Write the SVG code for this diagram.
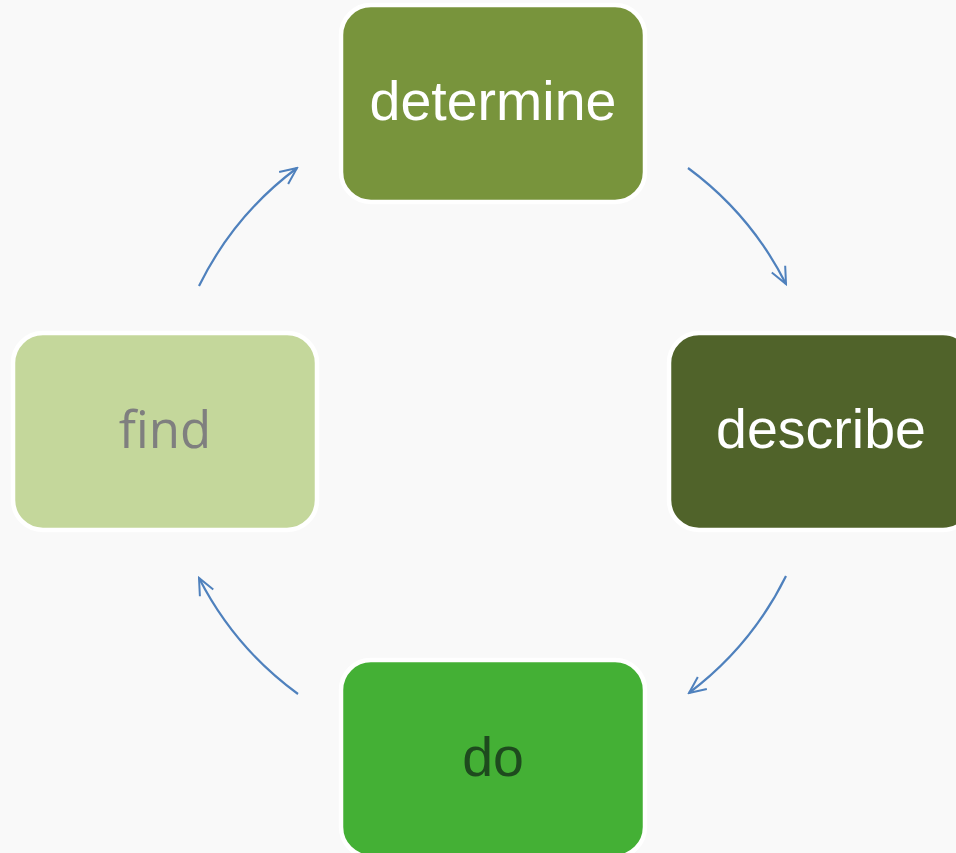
<svg xmlns="http://www.w3.org/2000/svg" width="956" height="853" viewBox="0 0 956 853">
<defs>
<style>
.node{stroke:#FFFFFF;stroke-width:4.5}
.lbl{font-family:"Liberation Sans",Arial,sans-serif;font-size:55.5px;text-anchor:middle}
.conn{fill:none;stroke:#4F81BD;stroke-width:2.2}
</style>
<marker id="arr" viewBox="0 0 12 12" refX="11" refY="6" markerWidth="20" markerHeight="20" markerUnits="userSpaceOnUse" orient="auto">
<path d="M1,1.5 L11,6 L1,10.5" fill="none" stroke="#4F81BD" stroke-width="1.2"/>
</marker>
</defs>
<rect width="956" height="853" fill="#F9F9F9"/>
<g id="connectors">
<path class="conn" d="M199,286 A328,328 0 0 1 297,168" marker-end="url(#arr)"/>
<path class="conn" d="M688,168 A328,328 0 0 1 786,284" marker-end="url(#arr)"/>
<path class="conn" d="M786,576 A328,328 0 0 1 689,693" marker-end="url(#arr)"/>
<path class="conn" d="M298,694 A328,328 0 0 1 199,578" marker-end="url(#arr)"/>
</g>
<g id="determine">
<rect class="node" x="341" y="5" width="304" height="197" rx="30" fill="#78943C"/>
<text class="lbl" x="493" y="120" fill="#FFFFFF">determine</text>
</g>
<g id="describe">
<rect class="node" x="669" y="333" width="304" height="197" rx="30" fill="#50632A"/>
<text class="lbl" x="821" y="448" fill="#FFFFFF">describe</text>
</g>
<g id="do">
<rect class="node" x="341" y="660" width="304" height="197" rx="30" fill="#44B035"/>
<text class="lbl" x="493" y="776" fill="#1E4A1E">do</text>
</g>
<g id="find">
<rect class="node" x="13" y="333" width="304" height="197" rx="30" fill="#C4D79B"/>
<text class="lbl" x="165" y="448" fill="#7F7F7F" style="font-family:'Open Sans','Liberation Sans',sans-serif;font-size:51px">find</text>
</g>
</svg>
